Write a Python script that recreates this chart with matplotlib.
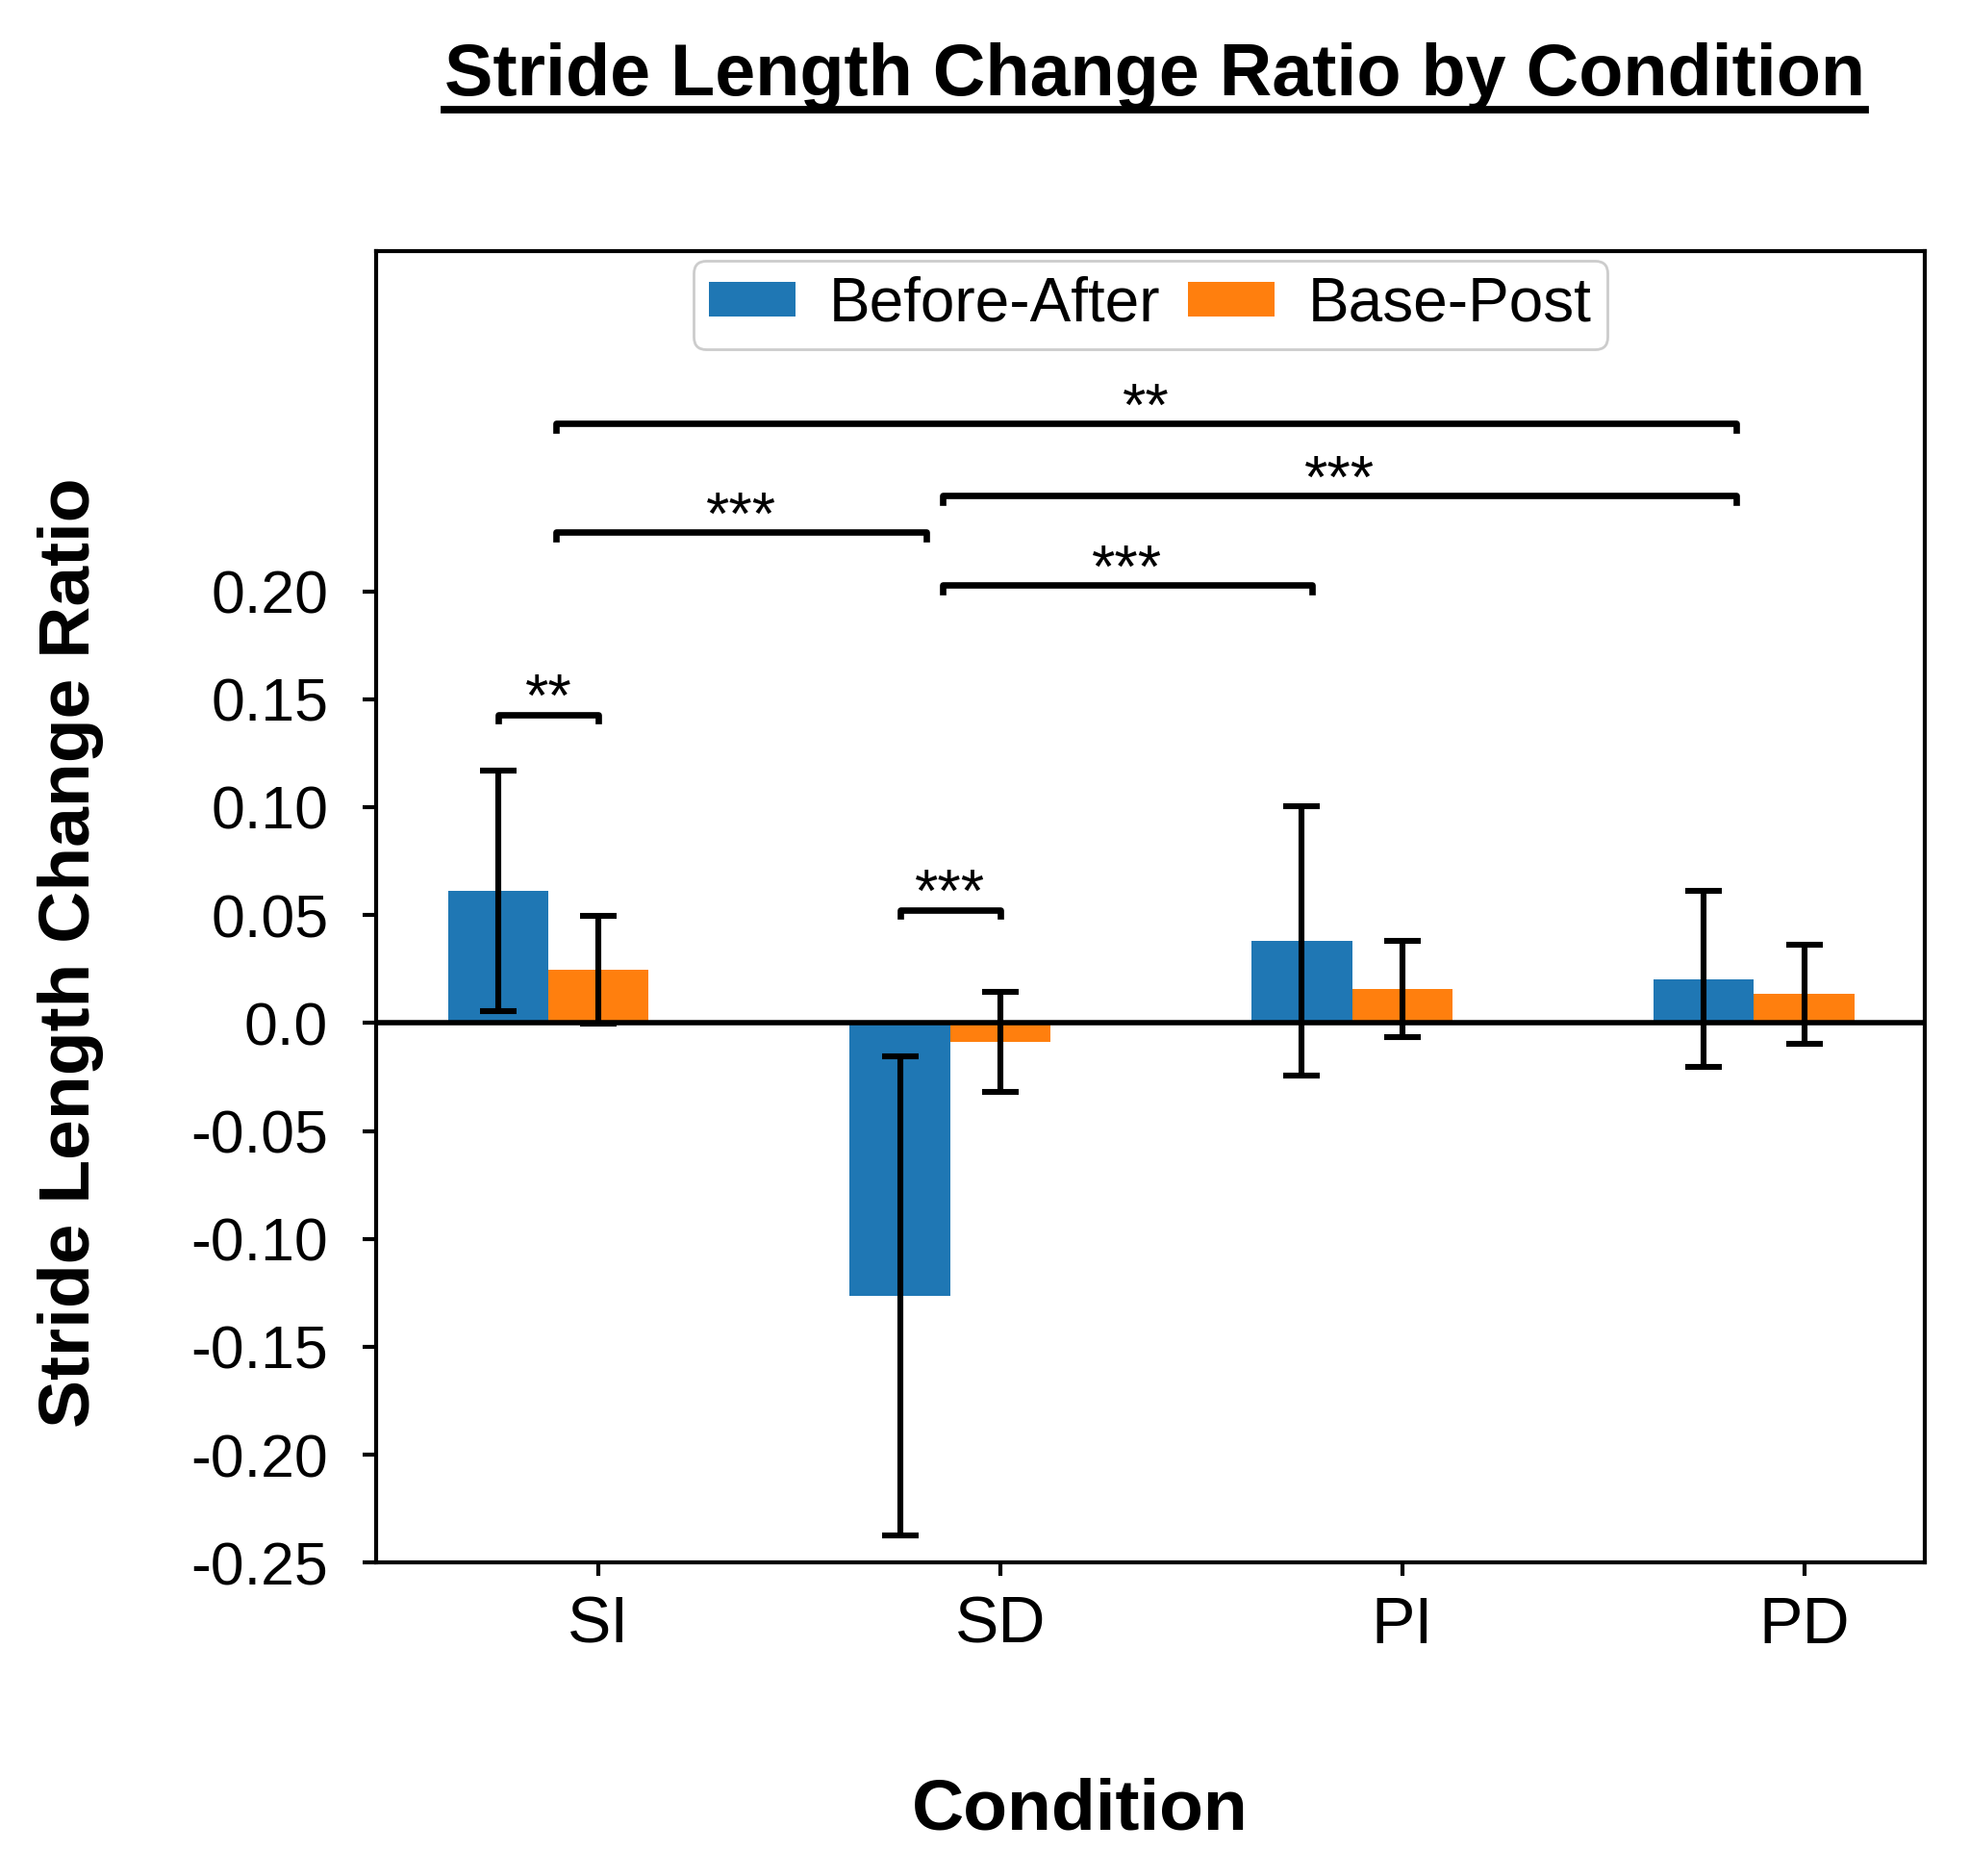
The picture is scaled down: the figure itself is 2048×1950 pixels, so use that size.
import numpy as np
import matplotlib
matplotlib.use('Agg')
import matplotlib.pyplot as plt
from matplotlib.lines import Line2D

plt.rcParams['font.family'] = ['Liberation Sans', 'DejaVu Sans']

#%% Data
conditions  = ['SI', 'SD', 'PI', 'PD']
before_mean = [0.0612, -0.1265, 0.0379, 0.0204]
before_err  = [0.0556, 0.1110, 0.0624, 0.0408]
base_mean   = [0.0245, -0.0087, 0.0157, 0.0134]
base_err    = [0.0250, 0.0233, 0.0222, 0.0230]

yticks      = [-0.25, -0.20, -0.15, -0.10, -0.05, 0.0, 0.05, 0.10, 0.15, 0.20]
ytick_text  = ['-0.25', '-0.20', '-0.15', '-0.10', '-0.05', '0.0',
               '0.05', '0.10', '0.15', '0.20']

# significance brackets: (x1, x2, height, label)
brackets = [(-0.25, 0.0, 0.1429, '**'),
            (0.75, 1.0, 0.0525, '***'),
            (-0.106, 0.816, 0.2274, '***'),
            (0.856, 1.775, 0.2029, '***'),
            (0.856, 2.830, 0.2443, '***'),
            (-0.106, 2.830, 0.2776, '**')]

#%% Plot
fig = plt.figure(figsize=(10.24, 9.75), dpi=200)
ax = fig.add_axes([0.191, 0.167, 0.786, 0.699])

x = np.arange(len(conditions))
w = 0.25
ekw = dict(elinewidth=2.2, capthick=2.2, capsize=7, ecolor='black')
ax.bar(x - w, before_mean, w, yerr=before_err, color='#1f77b4',
       label='Before-After', error_kw=ekw)
ax.bar(x, base_mean, w, yerr=base_err, color='#ff7f0e',
       label='Base-Post', error_kw=ekw)
ax.axhline(0, color='black', lw=2)

for x1, x2, h, lab in brackets:
    d = 0.003
    ax.plot([x1, x1, x2, x2], [h - d, h, h, h - d], color='black', lw=2.4)
    ax.text((x1 + x2) / 2, h - 0.0065, lab, ha='center', va='bottom',
            fontsize=22.5)

ax.set_xlim(-0.553, 3.30)
ax.set_ylim(-0.25, 0.3574)
ax.set_xticks(x)
ax.set_xticklabels(conditions, fontsize=24.5)
ax.set_yticks(yticks)
ax.set_yticklabels(ytick_text, fontsize=22.5)
ax.tick_params(axis='x', length=5, width=1.5, pad=7)
ax.tick_params(axis='y', length=5, width=1.5, pad=13)
for s in ax.spines.values():
    s.set_linewidth(1.5)

ax.legend(loc='upper center', ncol=2, fontsize=23, handlelength=1.4,
          handleheight=0.5, columnspacing=0.45, handletextpad=0.55,
          borderaxespad=0.15, borderpad=0.25,
          frameon=True, edgecolor='#cccccc', framealpha=1)

fig.text(0.036, 0.492, 'Stride Length Change Ratio', rotation=90,
         ha='center', va='center', fontsize=27, fontweight='bold')
fig.text(0.548, 0.035, 'Condition', ha='center', va='center',
         fontsize=27, fontweight='bold')
title = fig.text(0.586, 0.959, 'Stride Length Change Ratio by Condition',
                 ha='center', va='center', fontsize=27.2, fontweight='bold')

# underline the title
fig.canvas.draw()
bb = title.get_window_extent().transformed(fig.transFigure.inverted())
fig.add_artist(Line2D([bb.x0, bb.x1], [bb.y0 + 0.001, bb.y0 + 0.001],
                      transform=fig.transFigure, color='black', lw=2.8))

fig.savefig('out.png', dpi=200)
